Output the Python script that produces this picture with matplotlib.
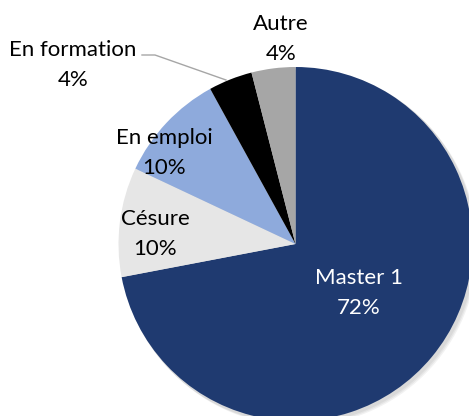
import matplotlib
matplotlib.use("Agg")
import matplotlib.pyplot as plt
from matplotlib.patches import Circle

categories = ["Master 1", "Césure", "En emploi", "En formation", "Autre"]
values = [72, 10, 10, 4, 4]
colors = ["#1F3A70", "#E6E6E6", "#8EAADC", "#000000", "#A6A6A6"]
text_colors = ["white", "black", "black", "black", "black"]
# label centres in pixel coordinates (x, y from top)
label_pos = [(359, 293), (155, 234), (164, 153), (73, 65), (281, 39)]

W, H = 469, 416
fig = plt.figure(figsize=(W / 100, H / 100), dpi=100)
ax = fig.add_axes([0, 0, 1, 1])

cx, cy, r = 295.5, H - 244, 177

# soft shadow
for i, a in enumerate([0.05, 0.05, 0.05]):
    ax.add_patch(Circle((cx + 2 + i, cy - 2 - i), r + 1, color="black", alpha=a, lw=0, zorder=0))

wedges, _ = ax.pie(values, colors=colors, startangle=90, counterclock=False,
                   center=(cx, cy), radius=r, wedgeprops=dict(linewidth=0))
for w in wedges:
    w.set_zorder(1)

for cat, val, (x, y), tc in zip(categories, values, label_pos, text_colors):
    ax.text(x, H - y, f"{cat}\n{val}%", ha="center", va="center", color=tc,
            fontsize=16, family="Lato", linespacing=1.6, zorder=3)

# leader line for En formation
ax.plot([142, 155, 226], [H - 55, H - 55, H - 80], color="#A6A6A6", lw=1, zorder=2)

ax.set_xlim(0, W)
ax.set_ylim(0, H)
ax.set_aspect("equal")
ax.axis("off")
fig.savefig("out.png", dpi=100)
